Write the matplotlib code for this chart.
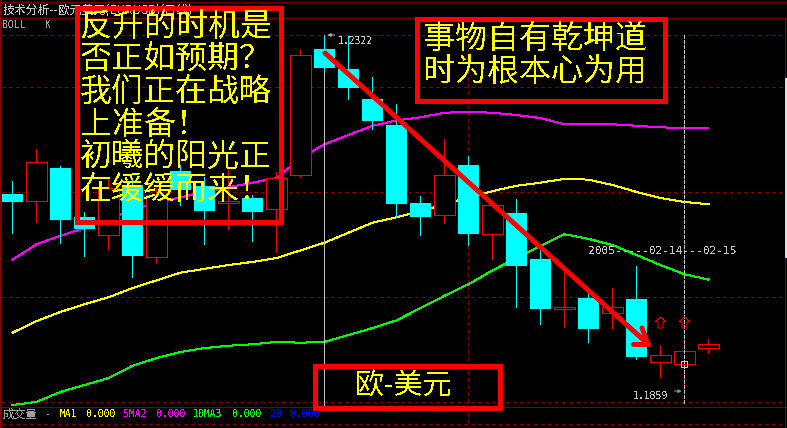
import matplotlib
matplotlib.use("Agg")
import matplotlib.pyplot as plt
import matplotlib.transforms as mtransforms
from matplotlib.patches import Rectangle
from matplotlib.lines import Line2D

plt.rcParams["text.antialiased"] = False

W, H, DPI = 787, 428, 100

# EUR/USD daily bars (oldest first)
opens = [1.2115, 1.2106, 1.2149, 1.2085, 1.2062, 1.2127, 1.2033, 1.2145, 1.2126, 1.2104,
         1.2110, 1.2096, 1.2140, 1.2304, 1.2278, 1.2239, 1.2205, 1.2104, 1.2088, 1.2153,
         1.2063, 1.2091, 1.2031, 1.1966, 1.1980, 1.1961, 1.1979, 1.1897, 1.1894, 1.1915]
highs = [1.2132, 1.2174, 1.2152, 1.2092, 1.2136, 1.2134, 1.2123, 1.2153, 1.2137, 1.2146,
         1.2114, 1.2144, 1.2302, 1.2322, 1.2321, 1.2267, 1.2232, 1.2113, 1.2187, 1.2165,
         1.2101, 1.2109, 1.2045, 1.2016, 1.1987, 1.1993, 1.2022, 1.1919, 1.1922, 1.1927]
lows = [1.2065, 1.2079, 1.2052, 1.2035, 1.2044, 1.2007, 1.2026, 1.2101, 1.2050, 1.2070,
        1.2054, 1.2040, 1.2137, 1.2277, 1.2239, 1.2200, 1.2085, 1.2062, 1.2078, 1.2049,
        1.2031, 1.1968, 1.1946, 1.1942, 1.1923, 1.1941, 1.1901, 1.1877, 1.1859, 1.1909]
closes = [1.2105, 1.2157, 1.2081, 1.2070, 1.2123, 1.2035, 1.2114, 1.2120, 1.2093, 1.2106,
          1.2092, 1.2136, 1.2296, 1.2279, 1.2253, 1.2210, 1.2102, 1.2085, 1.2140, 1.2063,
          1.2101, 1.2022, 1.1966, 1.1968, 1.1940, 1.1968, 1.1903, 1.1906, 1.1911, 1.1920]

# Bollinger bands
boll_upper = [1.2030, 1.2050, 1.2061, 1.2071, 1.2082, 1.2095, 1.2104, 1.2111, 1.2118, 1.2124,
              1.2130, 1.2136, 1.2162, 1.2180, 1.2192, 1.2204, 1.2211, 1.2215, 1.2221, 1.2222,
              1.2221, 1.2218, 1.2214, 1.2206, 1.2206, 1.2206, 1.2204, 1.2202, 1.2201, 1.2201]
boll_mid = [1.1935, 1.1950, 1.1962, 1.1972, 1.1981, 1.1993, 1.2003, 1.2013, 1.2018, 1.2023,
            1.2027, 1.2032, 1.2042, 1.2052, 1.2065, 1.2078, 1.2085, 1.2093, 1.2102, 1.2111,
            1.2119, 1.2126, 1.2130, 1.2135, 1.2134, 1.2127, 1.2118, 1.2110, 1.2105, 1.2102]
boll_lower = [1.1841, 1.1845, 1.1858, 1.1867, 1.1876, 1.1892, 1.1902, 1.1910, 1.1915, 1.1918,
              1.1920, 1.1923, 1.1922, 1.1923, 1.1932, 1.1941, 1.1951, 1.1967, 1.1983, 1.1998,
              1.2016, 1.2032, 1.2048, 1.2063, 1.2057, 1.2049, 1.2036, 1.2023, 1.2011, 1.2004]

title = "技术分析--欧元美元(EURUSD)(日线)"
indicator_tags = ["BOLL", "K"]
note_left = ["反升的时机是", "否正如预期？", "我们正在战略", "上准备！", "初曦的阳光正", "在缓缓而来！"]
note_right = ["事物自有乾坤道", "时为根本心为用"]
pair_name = "欧-美元"
high_label = "1.2322"
low_label = "1.1859"
date_marks = ["2005", "02-14", "02-15"]
volume_caption = "成交量"
volume_items = [("MA1", "0.000"), ("5MA2", "0.000"), ("10MA3", "0.000"), ("20", "0.000")]

BG = "#000000"
RED = "#ff0000"
CYAN = "#00ffff"
MAGENTA = "#ff00ff"
YELLOW = "#ffff00"
GREEN = "#00ff00"
BLUE = "#0000ff"
GRID = "#800000"
LIGHT = "#c8c8c8"
GREY = "#a0a0a0"
CJK = ["Noto Sans CJK SC", "DejaVu Sans"]
MONO = ["DejaVu Sans Mono", "Noto Sans CJK SC"]
PX = 72.0 / DPI  # one pixel in points

fig = plt.figure(figsize=(W / DPI, H / DPI), dpi=DPI, facecolor=BG)
ax = fig.add_axes([0, 0, 1, 1])
ax.set_facecolor(BG)
ax.set_xlim(-12.5 / 24, (W - 12.5) / 24)
ax.set_ylim(1.18111, 1.23675)
ax.axis("off")

fig_tr = fig.transFigure
idx_fig = mtransforms.blended_transform_factory(ax.transData, fig.transFigure)


def fx(px):
    return px / W


def fy(py):
    return 1 - py / H


def seg(x0, y0, x1, y1, **kw):
    ax.add_line(Line2D([fx(x0), fx(x1)], [fy(y0), fy(y1)], transform=fig_tr, **kw))


# frame and grid
for py in (2, 18, 407):
    seg(0, py, W, py, color=GRID, lw=PX, antialiased=False, zorder=1)
for py in (35, 87, 192, 297, 402, 424):
    seg(2, py, 785, py, color=GRID, lw=PX, ls=(0, (4, 3)), antialiased=False, zorder=1)
seg(1, 0, 1, H, color=GRID, lw=2 * PX, antialiased=False, zorder=1)
seg(785, 18, 785, H, color=GRID, lw=PX, antialiased=False, zorder=1)
fig.patches.append(Rectangle((fx(785), fy(258)), fx(2), 180 / H, transform=fig_tr,
                             facecolor="#dcdcdc", edgecolor="none", zorder=1))

# vertical guides
ax.add_line(Line2D([19, 19], [fy(35), fy(H)], transform=idx_fig, color=GRID, lw=PX,
                   ls=(0, (4, 3)), antialiased=False, zorder=1))
ax.add_line(Line2D([13, 13], [fy(35), fy(405)], transform=idx_fig, color="#c0c0c0", lw=PX,
                   antialiased=False, zorder=2.5))
ax.add_line(Line2D([28, 28], [fy(35), fy(403)], transform=idx_fig, color=LIGHT, lw=PX,
                   ls=(0, (4, 2)), antialiased=False, zorder=4))

# Bollinger bands
xs = list(range(len(opens)))
ax.plot(xs, boll_upper, color=MAGENTA, lw=PX, antialiased=False, zorder=2)
ax.plot(xs, boll_mid, color=YELLOW, lw=PX, antialiased=False, zorder=2)
ax.plot(xs, boll_lower, color=GREEN, lw=PX, antialiased=False, zorder=2)

# candlesticks
bw = 0.86
for i, (o, h, l, c) in enumerate(zip(opens, highs, lows, closes)):
    top, bot = max(o, c), min(o, c)
    if c >= o:
        ax.add_patch(Rectangle((i - bw / 2, bot), bw, top - bot, facecolor=BG,
                               edgecolor=RED, lw=PX, antialiased=False, zorder=3))
        ax.vlines(i, top, h, color=RED, lw=PX, antialiased=False, zorder=3)
        ax.vlines(i, l, bot, color=RED, lw=PX, antialiased=False, zorder=3)
    else:
        ax.vlines(i, l, h, color=CYAN, lw=PX, antialiased=False, zorder=3)
        ax.add_patch(Rectangle((i - bw / 2, bot), bw, top - bot, facecolor=CYAN,
                               edgecolor="none", antialiased=False, zorder=3))

# high / low markers
hi_i = highs.index(max(highs))
lo_i = lows.index(min(lows))
ax.annotate("", xy=(hi_i, highs[hi_i]), xytext=(13, 0), textcoords="offset pixels",
            arrowprops=dict(arrowstyle="-|>", color="#b0b0b0", lw=PX, mutation_scale=5), zorder=4)
ax.annotate(high_label, xy=(hi_i, highs[hi_i]), xytext=(13, -6), textcoords="offset pixels",
            color=LIGHT, fontsize=7, family=MONO, va="center", ha="left", zorder=4)
ax.annotate("", xy=(lo_i, lows[lo_i]), xytext=(-13, 0), textcoords="offset pixels",
            arrowprops=dict(arrowstyle="-|>", color="#909090", lw=PX, mutation_scale=5), zorder=4)
ax.annotate(low_label, xy=(lo_i, lows[lo_i]), xytext=(-16, -5), textcoords="offset pixels",
            color=LIGHT, fontsize=7, family=MONO, va="center", ha="right", zorder=4)
ax.plot([lo_i], [opens[lo_i]], marker="s", ms=5 * PX * 1.3, mfc="none", mec=LIGHT,
        mew=PX, zorder=5)

# hollow up arrows over the last bars
up_arrow = [(0, 1), (-1, 0.15), (-0.45, 0.15), (-0.45, -1), (0.45, -1), (0.45, 0.15), (1, 0.15), (0, 1)]
for i in (len(opens) - 3, len(opens) - 2):
    ax.plot([i], [fy(322)], transform=idx_fig, marker=up_arrow, ms=11 * PX, mfc="none",
            mec=RED, mew=PX, zorder=5, clip_on=False)

# date ruler
date_text = date_marks[0] + "-----" + date_marks[1] + "---" + date_marks[2]
fig.text(fx(588), fy(251), date_text, color=LIGHT, fontsize=8, family=MONO,
         va="center", ha="left", zorder=4)

# trend arrow
arrow_kw = dict(color=RED, lw=5 * PX, solid_capstyle="round", zorder=6)
seg(325, 53, 648, 344, **arrow_kw)
seg(648, 344, 642, 328, **arrow_kw)
seg(648, 344, 633, 344, **arrow_kw)

# header texts
fig.text(fx(3), fy(10), title, color=LIGHT, fontsize=8.6, family=CJK, va="center", ha="left")
fig.text(fx(2), fy(25), indicator_tags[0], color=GREY, fontsize=7, family=MONO, va="center")
fig.text(fx(45), fy(25), indicator_tags[1], color=GREY, fontsize=7, family=MONO, va="center")

# volume caption line
fig.text(fx(3), fy(414), volume_caption, color=GREY, fontsize=8.4, family=CJK, va="center")
fig.text(fx(45), fy(414), "-", color=GREY, fontsize=7, family=MONO, va="center")
item_colors = [YELLOW, MAGENTA, GREEN, BLUE]
item_x = [(60, 86), (123, 156), (193, 232), (270, 290)]
for (name, val), col, (xn, xv) in zip(volume_items, item_colors, item_x):
    fig.text(fx(xn), fy(414), name, color=col, fontsize=7, family=MONO, va="center")
    fig.text(fx(xv), fy(414), val, color=col, fontsize=7, family=MONO, va="center")

# note boxes
box_kw = dict(transform=fig_tr, fill=False, edgecolor=RED, lw=5 * PX, joinstyle="miter", zorder=7)
fig.patches.append(Rectangle((fx(76.5), fy(222.5)), 204 / W, 214 / H, **box_kw))
fig.patches.append(Rectangle((fx(416.5), fy(100.5)), 248 / W, 82 / H, **box_kw))
fig.patches.append(Rectangle((fx(314.5), fy(407.5)), 185 / W, 41.5 / H, **box_kw))

for k, line in enumerate(note_left):
    fig.text(fx(80), fy(26.5 + 32.7 * k), line, color=YELLOW, fontsize=23, family=CJK,
             va="center", ha="left", zorder=8)
for k, line in enumerate(note_right):
    fig.text(fx(423), fy(39 + 33 * k), line, color=YELLOW, fontsize=23, family=CJK,
             va="center", ha="left", zorder=8)
fig.text(fx(404), fy(387), pair_name, color=YELLOW, fontsize=21, family=CJK,
         va="center", ha="center", zorder=8)

fig.savefig("out.png", dpi=DPI, facecolor=BG)
